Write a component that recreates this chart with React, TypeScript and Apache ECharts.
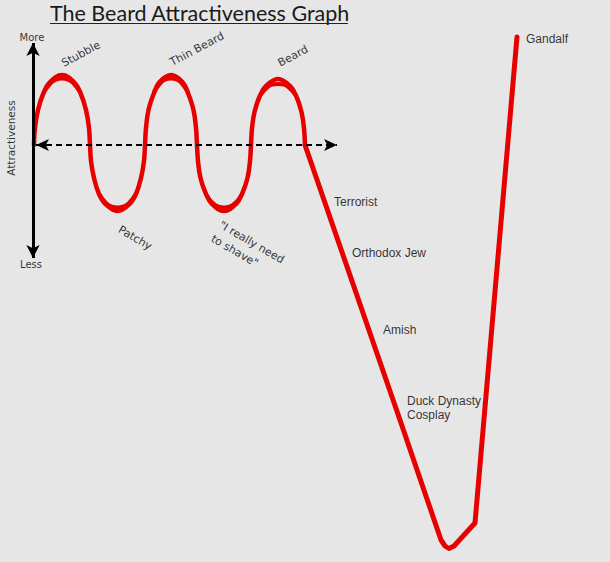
import * as echarts from 'echarts';
import React, { useEffect, useRef } from 'react';

// x = how much beard, y = attractiveness (0 sits on the dashed axis)
const RED = '#e60000';

// the three ups and two downs before it all goes wrong
const waveCurve: [number, number][] = [
  [34, 0], [35, 17], [38, 35], [43.5, 52], [50, 63], [62, 70], [74, 63], [80.5, 52], [86, 35], [89, 17], [90, 0],
  [91, -16], [94, -33], [99, -49], [105.5, -59], [117.5, -66], [129.5, -59], [136, -49], [141, -33], [144, -16], [145, 0],
  [146, 17], [148.5, 35], [154, 52], [159.5, 63], [171, 70], [182.5, 63], [188, 52], [193.5, 35], [196, 17], [197, 0],
  [198, -16], [200.5, -33], [206, -49], [212, -59], [224, -66], [236, -59], [242, -49], [247.5, -33], [250, -16], [251, 0],
  [252, 16.5], [254.5, 33], [260, 49.5], [266, 59], [278, 66], [290, 59], [296, 49.5], [301.5, 33], [304, 16.5], [305, 0],
];

// inner edges of the fatter tops and bottoms of the wave
const peakInnerEdges: [number, number][][] = [
  [[44, 53], [50, 61], [56, 65.4], [62, 66.5], [68, 65.4], [74, 61], [80, 53]],
  [[100, -50.3], [106, -57.9], [112, -61.7], [117.5, -62.5], [123, -61.7], [129, -57.9], [135, -50.3]],
  [[154, 52.4], [160, 61.4], [165.5, 65.5], [171, 66.5], [176.5, 65.5], [182, 61.4], [188, 52.4]],
  [[207, -50.7], [213, -58.3], [218.5, -61.6], [224, -62.5], [229.5, -61.6], [235, -58.3], [241, -50.7]],
  [[261, 50.7], [267, 57.3], [272.5, 60.6], [278, 61], [283.5, 60.6], [289, 57.3], [295, 50.7]],
];

// the long slide down and the climb up to Gandalf
const descentCurve: [number, number][] = [
  [305, 0], [400, -275], [441, -395], [445, -401], [449, -403.5], [454, -401], [475, -378], [517, 108],
];

const verticalAxisEnds: [number, number][] = [[33, 102], [33, -113]];
const horizontalAxisEnds: [number, number][] = [[36, 0], [337, 0]];

const curveLabels = ['Stubble', 'Thin Beard', 'Beard', 'Patchy', '"I really need\nto shave"'];
const curveLabelX = [81, 197, 293, 135, 216];
const curveLabelY = [91, 96, 89, -93, -86];

const stageLabels = ['Terrorist', 'Orthodox Jew', 'Amish', 'Duck Dynasty\nCosplay', 'Gandalf'];
const stageLabelX = [334, 352, 383, 407, 526];
const stageLabelY = [-57, -108, -185, -263, 106];

const axisEndLabels = ['More', 'Less', 'Attractiveness'];
const axisEndLabelX = [32, 31, 11];
const axisEndLabelY = [108, -119, 7];

const TITLE = 'The Beard Attractiveness Graph';

const curveLabelRotate = [28, 28, 28, -30, -30];
const curveLabelAlign = ['center', 'center', 'center', 'center', 'left'];
const axisLabelRotate = [0, 0, 90];
const axisLabelSize = [10, 10, 10.5];

const redLine = {
  color: RED,
  width: 4.5,
  cap: 'round' as const,
  join: 'round' as const,
};

const App: React.FC = () => {
  const chartRef = useRef<HTMLDivElement>(null);

  useEffect(() => {
    let chart: echarts.ECharts | undefined;
    if (chartRef.current) {
      chart = echarts.init(chartRef.current, null, { renderer: 'svg' });

      const labelSeries = (
        names: string[],
        xs: number[],
        ys: number[],
        perItem: (i: number) => Record<string, unknown>,
        base: Record<string, unknown>,
      ) => ({
        type: 'scatter' as const,
        symbolSize: 1,
        silent: true,
        z: 5,
        itemStyle: { color: 'transparent' },
        label: {
          show: true,
          position: 'inside',
          verticalAlign: 'middle',
          color: '#000',
          ...base,
        },
        data: names.map((name, i) => ({
          value: [xs[i], ys[i]],
          label: { formatter: name, ...perItem(i) },
        })),
      });

      const arrowAxis = (
        ends: [number, number][],
        size: number[],
        lineStyle: Record<string, unknown>,
      ) => ({
        type: 'line' as const,
        data: [],
        silent: true,
        z: 2,
        markLine: {
          silent: true,
          animation: false,
          symbol: ['arrow', 'arrow'],
          symbolSize: size,
          label: { show: false },
          lineStyle: { color: '#000', ...lineStyle },
          emphasis: { disabled: true },
          data: [[{ coord: ends[0] }, { coord: ends[1] }]],
        },
      });

      const option = {
        animation: false,
        backgroundColor: '#e6e6e6',
        grid: { left: 0, right: 0, top: 0, bottom: 0 },
        xAxis: { type: 'value', min: 0, max: 610, show: false },
        yAxis: { type: 'value', min: -417, max: 145, show: false },
        graphic: [
          {
            type: 'text',
            left: 50,
            top: 2,
            style: {
              text: TITLE,
              font: '21.5px Lato',
              fill: '#1a1a1a',
            },
          },
          {
            type: 'line',
            shape: { x1: 50, y1: 23.5, x2: 348, y2: 23.5 },
            style: { stroke: '#222', lineWidth: 1.2 },
          },
        ],
        series: [
          arrowAxis(verticalAxisEnds, [10, 13], { width: 3, type: 'solid' }),
          arrowAxis(horizontalAxisEnds, [9, 13], { width: 2, type: [6, 4] }),
          {
            type: 'line',
            data: waveCurve,
            smooth: 0.4,
            showSymbol: false,
            silent: true,
            z: 3,
            lineStyle: redLine,
          },
          ...peakInnerEdges.map((edge) => ({
            type: 'line',
            data: edge,
            smooth: 0.5,
            showSymbol: false,
            silent: true,
            z: 3,
            lineStyle: { ...redLine, width: 4 },
          })),
          {
            type: 'line',
            data: descentCurve,
            showSymbol: false,
            silent: true,
            z: 3,
            lineStyle: { ...redLine, width: 5 },
          },
          labelSeries(
            curveLabels,
            curveLabelX,
            curveLabelY,
            (i) => ({ rotate: curveLabelRotate[i], align: curveLabelAlign[i] }),
            { fontFamily: 'DejaVu Sans', fontSize: 11, lineHeight: 16 },
          ),
          labelSeries(
            stageLabels,
            stageLabelX,
            stageLabelY,
            () => ({ align: 'left' }),
            { fontFamily: 'Liberation Sans', fontSize: 12, lineHeight: 14.5 },
          ),
          labelSeries(
            axisEndLabels,
            axisEndLabelX,
            axisEndLabelY,
            (i) => ({ rotate: axisLabelRotate[i], fontSize: axisLabelSize[i] }),
            { fontFamily: 'DejaVu Sans', align: 'center' },
          ),
        ],
      };

      chart.setOption(option as echarts.EChartsOption);
    }

    return () => {
      chart?.dispose();
    };
  }, []);

  return (
    <div
      ref={chartRef}
      style={{ position: 'fixed', left: 0, top: 0, width: '610px', height: '562px' }}
    />
  );
};

export default App;
